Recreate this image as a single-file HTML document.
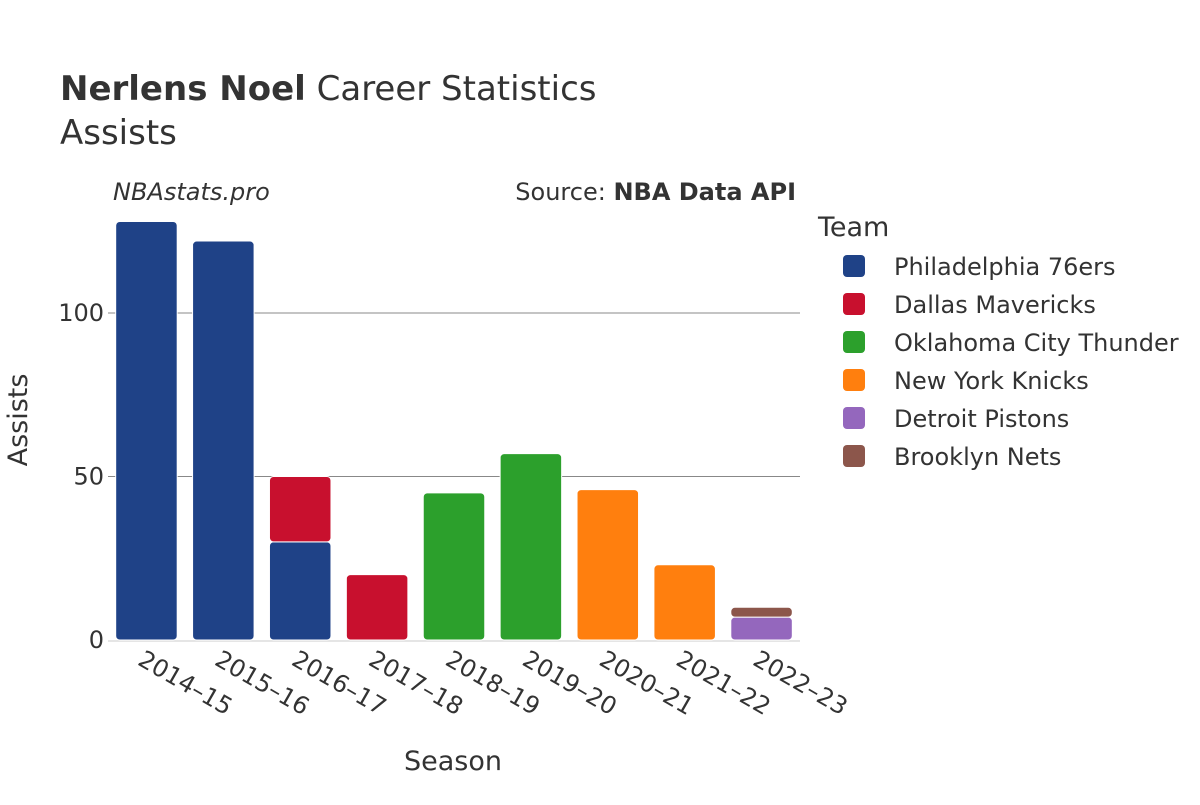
<!DOCTYPE html>
<html><head><meta charset="utf-8"><style>
body{margin:0;background:#fff;font-family:"Liberation Sans","DejaVu Sans",sans-serif;}
svg text{font-family:"DejaVu Sans","Liberation Sans",sans-serif;fill:#333;}
</style></head><body>
<svg id="c" width="1200" height="800" xmlns="http://www.w3.org/2000/svg">
<text x="60" y="100" font-size="34"><tspan font-weight="bold">Nerlens Noel</tspan> Career Statistics</text>
<text x="60" y="144" font-size="34">Assists</text>
<text x="113" y="200" font-size="24" font-style="italic">NBAstats.pro</text>
<text x="796" y="200" font-size="24" text-anchor="end">Source: <tspan font-weight="bold">NBA Data API</tspan></text>
<g id="grid"></g><g id="bars"></g><g id="xt"></g><g id="yt"></g>
<text x="453" y="770" font-size="27" text-anchor="middle">Season</text>
<text transform="translate(27,420) rotate(-90)" font-size="27" text-anchor="middle">Assists</text>
<text x="818" y="236" font-size="27">Team</text>
<g id="leg"></g>
</svg>
<script>
const seasons=["2014–15","2015–16","2016–17","2017–18","2018–19","2019–20","2020–21","2021–22","2022–23"];
const teams=["Philadelphia 76ers","Dallas Mavericks","Oklahoma City Thunder","New York Knicks","Detroit Pistons","Brooklyn Nets"];
const colors=["#1f4287","#c8102e","#2ca02c","#ff7f0e","#9467bd","#8c564b"];
const phi=[128,122,30,0,0,0,0,0,0];
const dal=[0,0,20,20,0,0,0,0,0];
const okc=[0,0,0,0,45,57,0,0,0];
const nyk=[0,0,0,0,0,0,46,23,0];
const det=[0,0,0,0,0,0,0,0,7];
const bkn=[0,0,0,0,0,0,0,0,3];
const yTicks=[0,50,100];
const series=[phi,dal,okc,nyk,det,bkn];
const NS="http://www.w3.org/2000/svg";
const x0=108,x1=800,y0=640,pxPer=3.27;
const band=(x1-x0)/seasons.length;
const X=i=>x0+band*i+band/2;
const Y=v=>y0-v*pxPer;
function mk(t,a,p){const e=document.createElementNS(NS,t);for(const k in a)e.setAttribute(k,a[k]);document.getElementById(p).appendChild(e);return e;}
yTicks.forEach(v=>{
  if(v>0){const l=mk("line",{x1:x0,x2:x1,y1:Y(v),y2:Y(v),stroke:"#888","stroke-width":1},"grid");
  
  }
  const t=mk("text",{x:104,y:Y(v)+8,"font-size":24,"text-anchor":"end"},"yt");t.textContent=v;
  
  
});
const base=mk("line",{x1:x0,x2:x1,y1:y0+1,y2:y0+1,stroke:"#e5e5e5","stroke-width":2},"grid");


const bw=band*0.8;
seasons.forEach((s,i)=>{
  let acc=0;
  series.forEach((ser,k)=>{
    const v=ser[i];if(!v)return;
    const r=mk("rect",{x:X(i)-bw/2,y:Y(acc+v),width:bw,height:v*pxPer,fill:colors[k],rx:4,stroke:"#fff","stroke-width":1},"bars");
    
    
    acc+=v;
  });
  const t=mk("text",{x:0,y:0,"font-size":24,transform:`translate(${X(i)-10},${664}) rotate(30)`},"xt");t.textContent=s;
  
  
});
teams.forEach((n,k)=>{
  const y=266+k*38;
  const r=mk("rect",{x:843,y:y-11,width:22,height:22,rx:4,fill:colors[k]},"leg");
  
  
  const t=mk("text",{x:894,y:y+9,"font-size":24},"leg");t.textContent=n;
  
  
});
</script>
</body></html>
